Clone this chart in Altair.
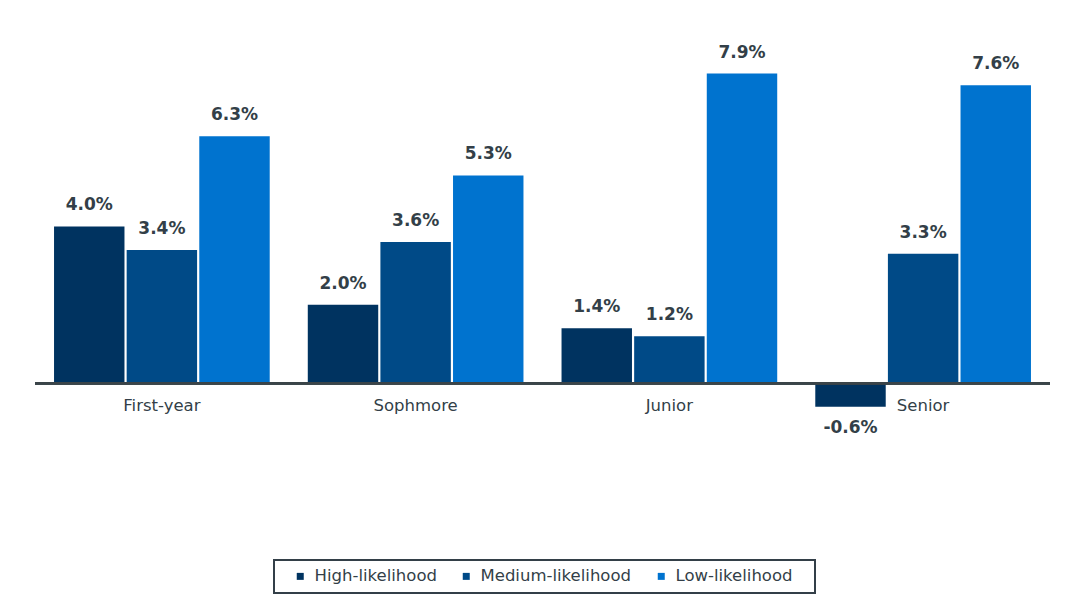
import altair as alt
import pandas as pd

categories = ["First-year", "Sophmore", "Junior", "Senior"]
series = ["High-likelihood", "Medium-likelihood", "Low-likelihood"]
high = [4.0, 2.0, 1.4, -0.6]
medium = [3.4, 3.6, 1.2, 3.3]
low = [6.3, 5.3, 7.9, 7.6]
colors = ["#003360", "#004a87", "#0073cf"]

rows = []
for i, c in enumerate(categories):
    for s, vals in zip(series, [high, medium, low]):
        rows.append({"category": c, "series": s, "value": vals[i],
                     "label": f"{vals[i]:.1f}%", "zero": 0})
df = pd.DataFrame(rows)

FONT = "DejaVu Sans"
TXT = "#333f48"
W = 1015
H = 392

x = alt.X("category:N", sort=categories, axis=None,
          scale=alt.Scale(paddingInner=0.15, paddingOuter=0.075))
xo = alt.XOffset("series:N", sort=series, scale=alt.Scale(paddingInner=0.03))
yscale = alt.Scale(domain=[-1.5, 8.5], nice=False, zero=False)
y = alt.Y("value:Q", axis=None, scale=yscale)

base = alt.Chart(df)

bars = base.mark_bar().encode(
    x=x, xOffset=xo, y=y, y2="zero:Q",
    color=alt.Color("series:N", sort=series,
                    scale=alt.Scale(domain=series, range=colors),
                    legend=alt.Legend(title="\u00a0", titleOrient="right", titlePadding=14,
                                      titleFontSize=16,
                                      orient="none", direction="horizontal",
                                      legendX=239, legendY=510,
                                      symbolType="square", symbolSize=49,
                                      symbolOffset=10,
                                      labelFontSize=16.5, labelFont=FONT, labelColor=TXT,
                                      columnPadding=11, padding=8, strokeColor="#333f48",
                                      symbolStrokeWidth=0, labelOffset=6)),
)

pos_labels = base.transform_filter("datum.value >= 0").mark_text(
    baseline="bottom", dy=-12, fontSize=17, fontWeight="bold", font=FONT, color=TXT
).encode(x=x, xOffset=xo, y=y, text="label:N")

neg_labels = base.transform_filter("datum.value < 0").mark_text(
    baseline="top", dy=13, fontSize=17, fontWeight="bold", font=FONT, color=TXT
).encode(x=x, xOffset=xo, y=y, text="label:N")

zero_rule = base.mark_rule(color="#3b4449", strokeWidth=2).encode(
    x=alt.value(0), x2=alt.value(W), y=alt.Y("zero:Q", scale=yscale, axis=None))

cat_labels = base.transform_filter("datum.series == 'Medium-likelihood'").mark_text(
    baseline="middle", dy=23, fontSize=16.5, font=FONT, color=TXT
).encode(x=x, xOffset=xo, y=alt.Y("zero:Q", scale=yscale, axis=None), text="category:N")

chart = alt.layer(bars, zero_rule, pos_labels, neg_labels, cat_labels).properties(
    width=W, height=H,
    padding={"left": 26, "top": 35, "right": 5, "bottom": 5},
).configure_view(stroke=None).configure_legend(strokeWidth=2)

chart.save("out.html", embed_options={"renderer": "svg", "actions": False})
